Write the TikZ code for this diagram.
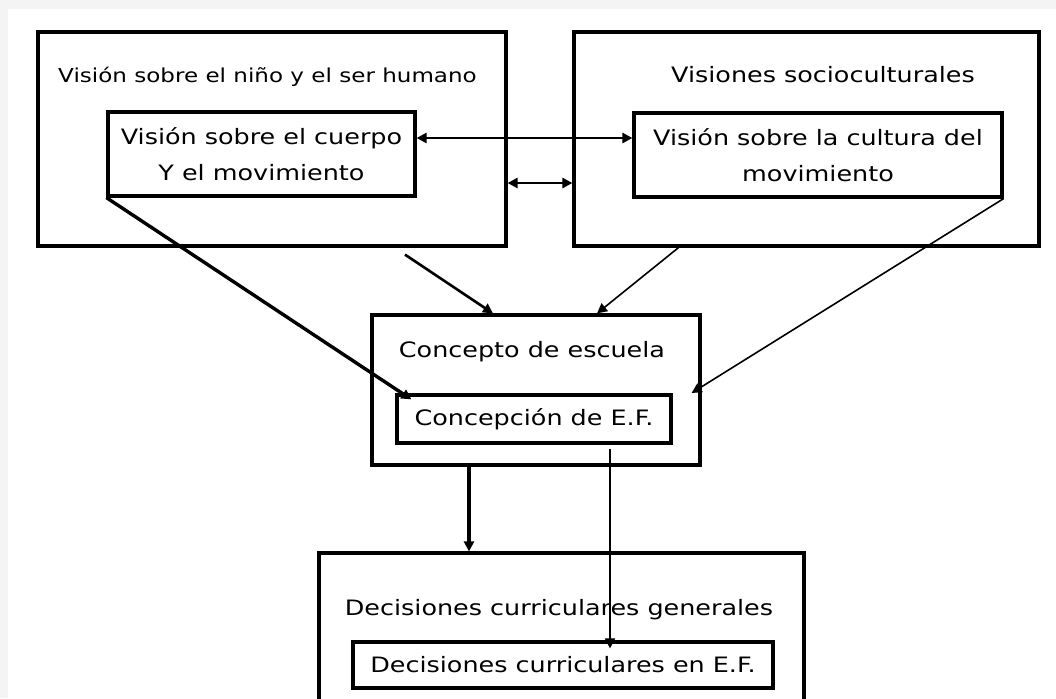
\documentclass[tikz,border=0pt]{standalone}
\usepackage{fontspec}
\setmainfont[FakeStretch=1.2]{DejaVu Sans}
\usetikzlibrary{arrows.meta,positioning}

\definecolor{fondo}{HTML}{F4F4F4}
\newcommand\letra{\fontsize{10.6}{18}\selectfont}
\newcommand\letrachica{\fontsize{9.6}{12}\selectfont}

\tikzset{
  caja/.style={draw, line width=1.6pt, inner sep=2pt, align=center, font=\letra},
  titulo/.style={anchor=base, inner sep=0pt, font=\letra},
  gruesa/.style={line width=1.7pt},
  media/.style={line width=1.3pt},
  fina/.style={line width=0.8pt},
  >={Triangle[length=5pt,width=5pt]}
}

\begin{document}
\begin{tikzpicture}[x=0.5pt,y=-0.5pt]
  \useasboundingbox (0,0) rectangle (1056,698);
  \fill[fondo] (0,0) rectangle (1056,698);
  \fill[white] (8,9) rectangle (1056,698);
  \clip (0,0) rectangle (1056,698);

  % cajas grandes
  \node[caja, minimum width=234pt, minimum height=107pt] (nino) at (272,139) {};
  \node[caja, minimum width=232.5pt, minimum height=107pt] (socio) at (806.5,139) {};
  \node[titulo, font=\letrachica] (tnino) at (267.5,82) {Visión sobre el niño y el ser humano};
  \node[titulo] (tsocio) at (823,82) {Visiones socioculturales};

  % cajas interiores
  \node[caja, minimum width=153.5pt, minimum height=42pt] (cuerpo) at (261.5,154) {Visión sobre el cuerpo\\Y el movimiento};
  \node[caja, minimum width=184pt, minimum height=42pt] (cultura) at (818,155) {Visión sobre la cultura del\\movimiento};

  % escuela
  \node[caja, minimum width=164pt, minimum height=75pt] (escuela) at (536,390) {};
  \node[titulo] (tescuela) at (532,357) {Concepto de escuela};
  \node[caja, minimum width=137pt, minimum height=24pt] (ef) at (534,419) {Concepción de E.F.};

  % decisiones
  \node[caja, minimum width=242.5pt, minimum height=103.5pt] (decis) at (561.5,656.5) {};
  \node[titulo] (tdecis) at (559,615) {Decisiones curriculares generales};
  \node[caja, minimum width=210pt, minimum height=23pt] (defe) at (563,665) {Decisiones curriculares en E.F.};

  % flechas
  \coordinate (c1) at ([yshift=8pt]cuerpo.east);
  \draw[media,<->] (c1) -- (c1 -| cultura.west);
  \draw[media,<->] ([yshift=-22pt]nino.east) -- ([yshift=-22pt]socio.west);
  \draw[gruesa,->] (cuerpo.south west) -- ([xshift=8pt,yshift=-3pt]ef.north west);
  \draw[fina,->] (cultura.south east) -- ([xshift=-5pt,yshift=-1.5pt]escuela.east);
  \draw[media,->] ([xshift=66.5pt,yshift=-3.5pt]nino.south) -- ([xshift=-21.5pt]escuela.north);
  \draw[fina,->] ([xshift=-64pt]socio.south) -- ([xshift=30.5pt]escuela.north);
  \coordinate (baja) at ([xshift=-33.5pt]escuela.south);
  \draw[gruesa,->] (baja) -- (baja |- decis.north);
  \coordinate (salida) at ([xshift=38pt,yshift=-2pt]ef.south);
  \coordinate (llegada) at (salida |- defe.north);
  \draw[fina,->] (salida) -- ([yshift=-4pt]llegada);
\end{tikzpicture}
\end{document}
